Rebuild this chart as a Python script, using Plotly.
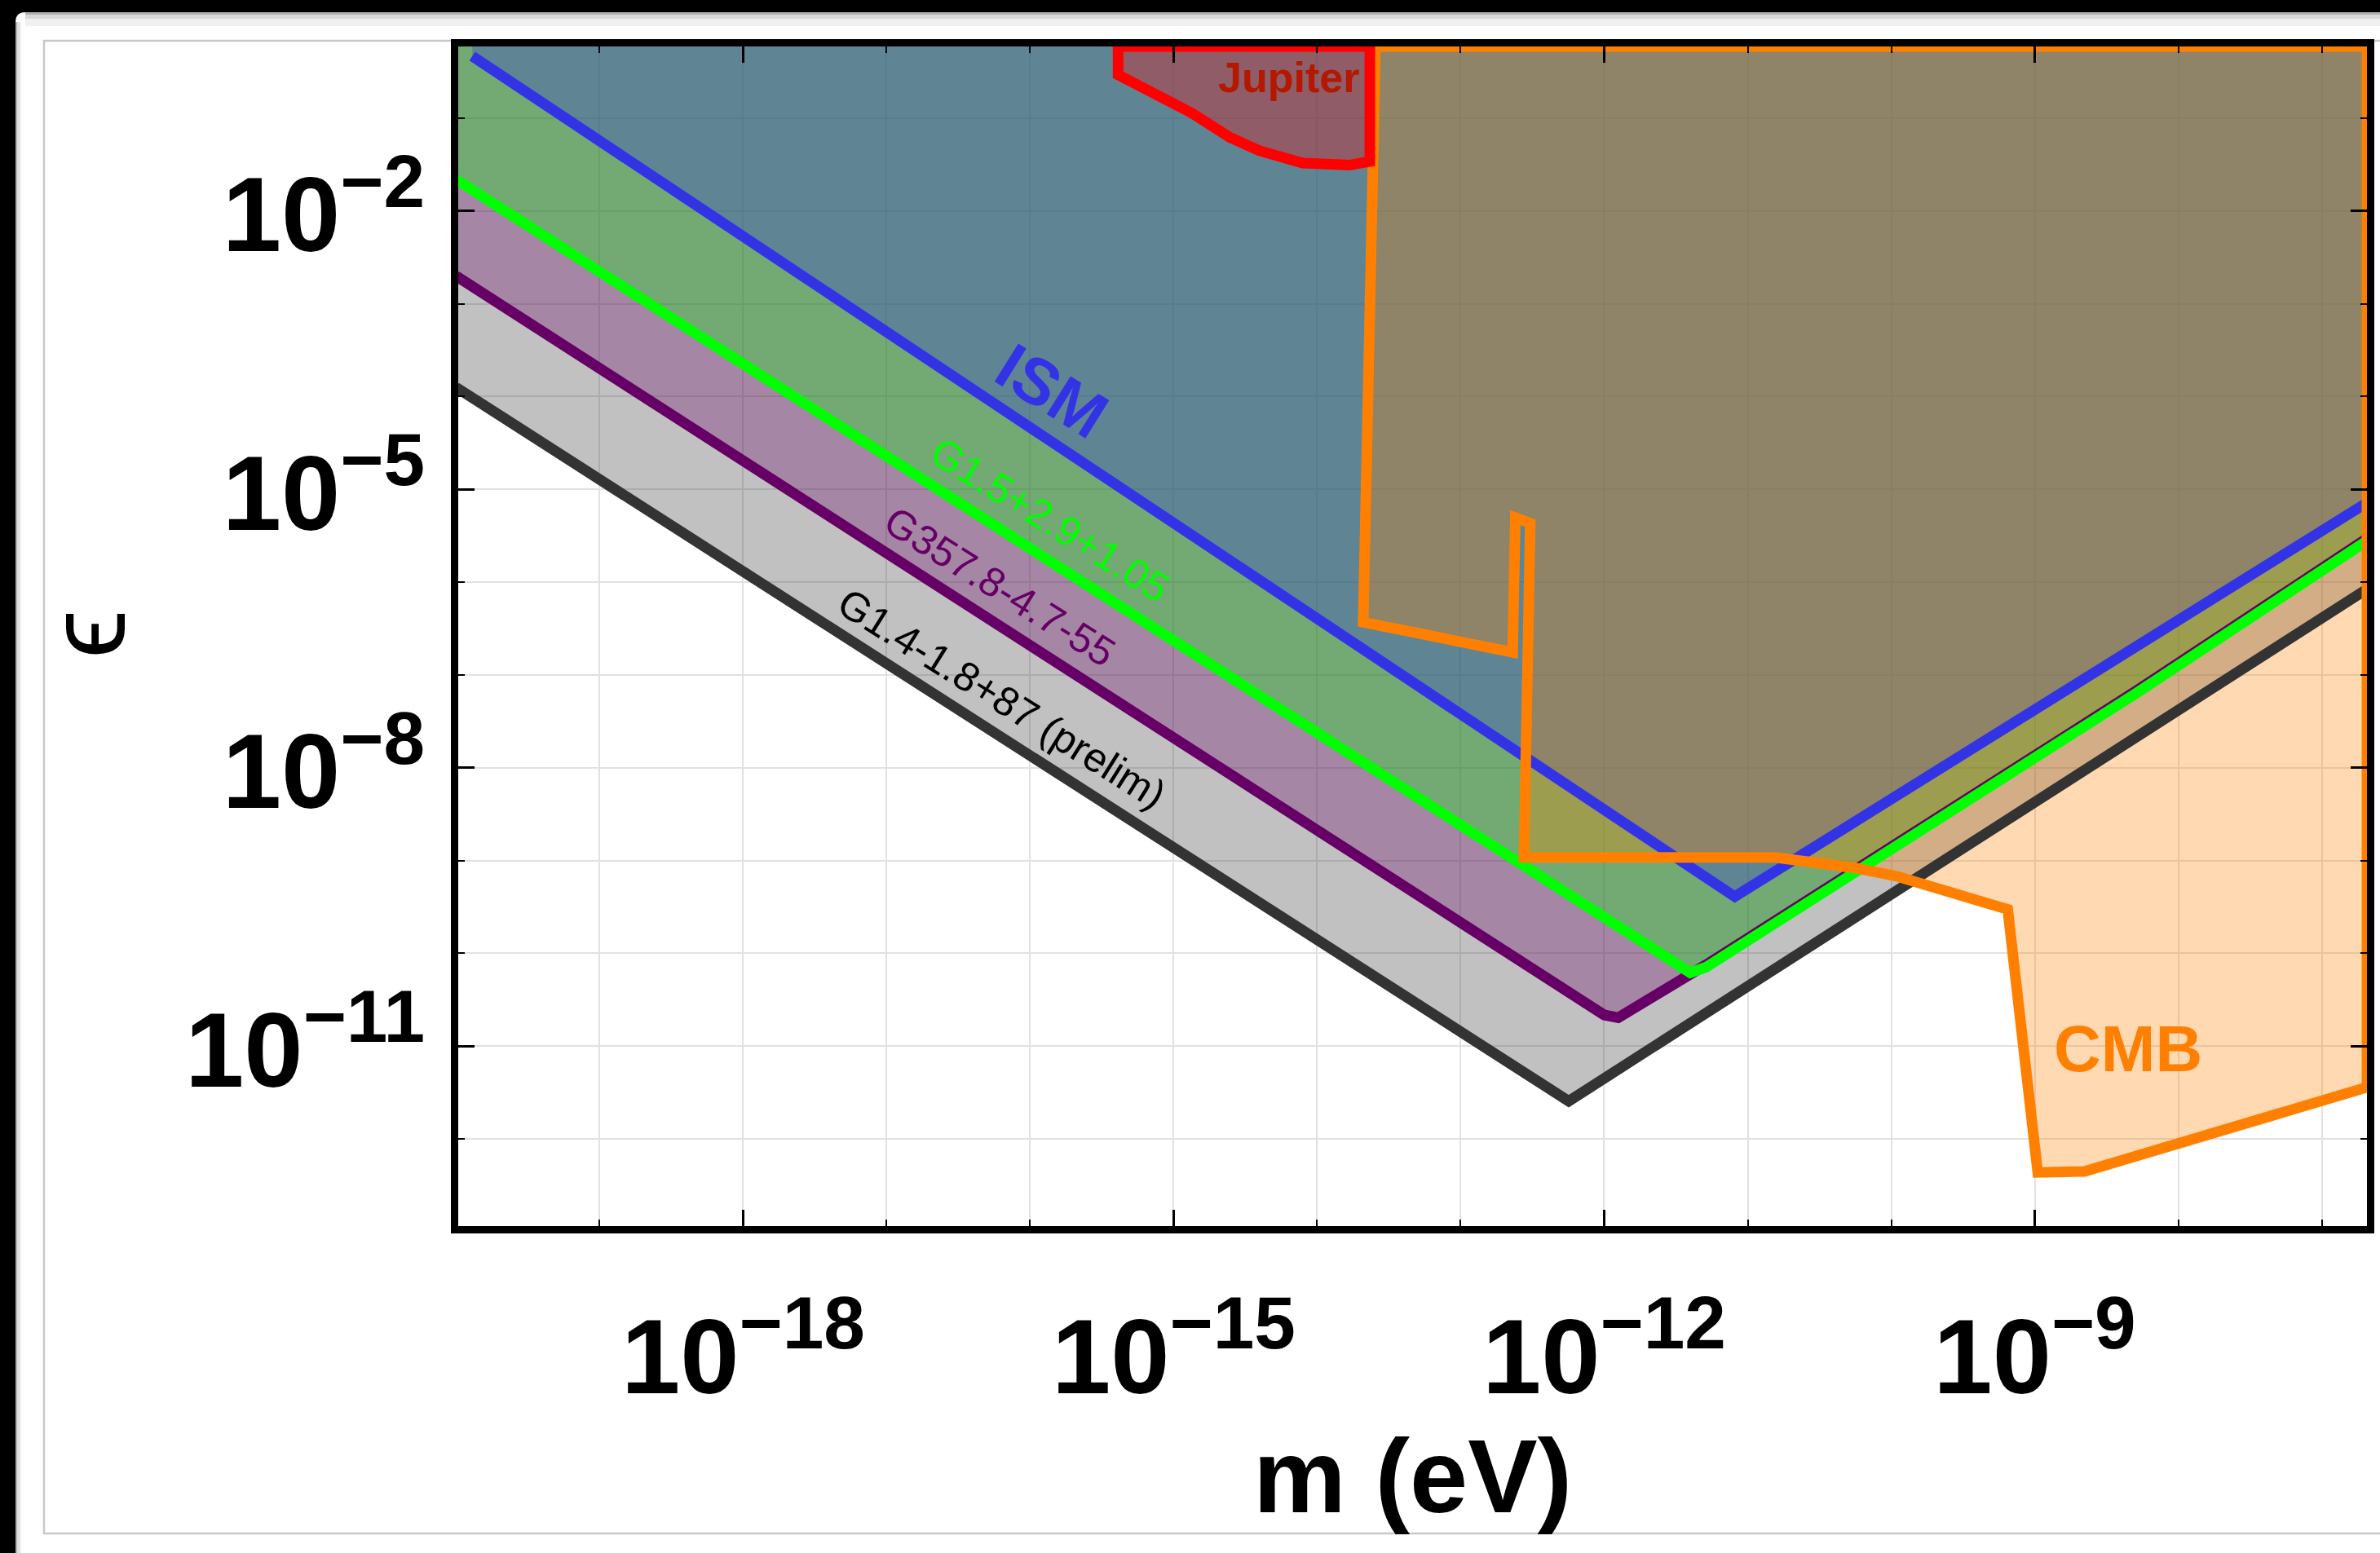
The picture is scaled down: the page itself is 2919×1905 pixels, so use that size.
import numpy as np
import plotly.graph_objects as go

# Canvas and plot-area geometry (pixels)
W, H = 2919, 1905
PLOT_L, PLOT_R, PLOT_T, PLOT_B = 562, 2912, 57, 1504

# Axis windows, log10 units
LOGM_RANGE = [-19.985, -6.685]
LOGE_RANGE = [-12.941, -0.226]

# Exclusion bounds: vertices in log10(m / eV) and log10(epsilon)
ISM_LOGM = [-19.887, -11.09, -6.685]
ISM_LOGE = [-0.33, -9.39, -5.144]

G15_LOGM = [-20.0, -11.40, -11.29, -8.285, -6.685]
G15_LOGE = [-1.66, -10.21, -10.15, -7.19, -5.554]

G357_LOGM = [-20.0, -12.0, -11.902, -11.29, -8.285, -6.685]
G357_LOGE = [-2.70, -10.665, -10.694, -10.124, -7.164, -5.528]

G14_LOGM = [-20.0, -12.247, -6.685]
G14_LOGE = [-3.90, -11.594, -6.075]

CMB_LOGM = [-13.594, -13.679, -12.638, -12.619, -12.515, -12.559, -10.808,
            -10.242, -9.959, -9.188, -8.979, -8.654, -6.685, -6.685, -13.594]
CMB_LOGE = [-0.226, -6.432, -6.755, -5.305, -5.364, -8.967, -8.967,
            -9.083, -9.171, -9.528, -12.363, -12.352, -11.445, -0.226, -0.226]

JUP_LOGM = [-15.387, -15.387, -14.872, -14.609, -14.405, -14.101, -13.774,
            -13.633, -13.633, -15.387]
JUP_LOGE = [-0.226, -0.532, -0.945, -1.205, -1.348, -1.483, -1.505,
            -1.465, -0.226, -0.226]

# Tick decades
X_MAJOR = [-18, -15, -12, -9]
X_MINOR = [-20, -19, -17, -16, -14, -13, -11, -10, -8, -7]
Y_MAJOR = [-11, -8, -5, -2]
Y_MINOR = [-13, -12, -10, -9, -7, -6, -4, -3, -1]

# Labels: (text, log10 m, log10 eps)
LABELS = [
    ("ISM", -15.85, -3.94),
    ("G1.5+2.9+1.05", -15.86, -5.33),
    ("G357.8-4.7-55", -16.21, -6.05),
    ("G1.4-1.8+87 (prelim)", -16.20, -7.26),
    ("Jupiter", -14.20, -0.56),
    ("CMB", -8.35, -11.03),
]

BLUE = (51, 51, 230)
GREEN = (0, 255, 0)
PURPLE = (102, 0, 102)
DGRAY = (51, 51, 51)
ORANGE = (255, 128, 0)
RED = (255, 0, 0)
FILL_ALPHA = 0.3
LW = 13
FONT = "Liberation Sans, Arial, DejaVu Sans"


def rgb(c):
    return "rgb(%d,%d,%d)" % c


def rgba(c, a):
    return "rgba(%d,%d,%d,%.3f)" % (c + (a,))


def lin(v):
    return 10.0 ** np.asarray(v, dtype=float)


fig = go.Figure()

top = LOGE_RANGE[1]
bands = [
    (G14_LOGM, G14_LOGE, DGRAY),
    (G357_LOGM, G357_LOGE, PURPLE),
    (G15_LOGM, G15_LOGE, GREEN),
    (ISM_LOGM, ISM_LOGE, BLUE),
]
regions = [
    (CMB_LOGM, CMB_LOGE, ORANGE),
    (JUP_LOGM, JUP_LOGE, RED),
]

# Filled areas first (each bound filled up to the top of the window)
for lm, le, c in bands:
    xs = list(lm) + [lm[-1], lm[0], lm[0]]
    ys = list(le) + [top, top, le[0]]
    fig.add_trace(go.Scatter(x=lin(xs), y=lin(ys), mode="lines", fill="toself",
                             fillcolor=rgba(c, FILL_ALPHA),
                             line=dict(width=0, color=rgba(c, 0)),
                             hoverinfo="skip"))
for lm, le, c in regions:
    fig.add_trace(go.Scatter(x=lin(lm), y=lin(le), mode="lines", fill="toself",
                             fillcolor=rgba(c, FILL_ALPHA),
                             line=dict(width=0, color=rgba(c, 0)),
                             hoverinfo="skip"))

# Boundary lines on top of all fills
for lm, le, c in bands + regions:
    fig.add_trace(go.Scatter(x=lin(lm), y=lin(le), mode="lines",
                             line=dict(width=LW, color=rgb(c)),
                             hoverinfo="skip"))

label_style = {
    "ISM": dict(color=rgb(BLUE), size=80, weight="bold", angle=32),
    "G1.5+2.9+1.05": dict(color=rgb(GREEN), size=50, weight="normal", angle=32),
    "G357.8-4.7-55": dict(color=rgb(PURPLE), size=50, weight="normal", angle=32),
    "G1.4-1.8+87 (prelim)": dict(color="black", size=50, weight="normal", angle=32),
    "Jupiter": dict(color="#b41800", size=52, weight="bold", angle=0),
    "CMB": dict(color=rgb(ORANGE), size=80, weight="bold", angle=0),
}

annotations = []
for text, lm, le in LABELS:
    s = label_style[text]
    annotations.append(dict(x=lm, y=le, xref="x", yref="y", text=text,
                            showarrow=False, textangle=s["angle"],
                            xanchor="center", yanchor="middle",
                            font=dict(family=FONT, size=s["size"],
                                      color=s["color"], weight=s["weight"])))


def px(X):
    return (X - PLOT_L) / (PLOT_R - PLOT_L)


def py(Y):
    return (PLOT_B - Y) / (PLOT_B - PLOT_T)


# Axis titles
annotations.append(dict(x=px(1737), y=py(1810), xref="paper", yref="paper",
                        text="m (eV)", showarrow=False, xanchor="center",
                        yanchor="middle",
                        font=dict(family=FONT, size=128, color="black",
                                  weight="bold")))
annotations.append(dict(x=px(104), y=py(778), xref="paper", yref="paper",
                        text="\u03f5", showarrow=False, textangle=-90,
                        xanchor="center", yanchor="middle",
                        font=dict(family=FONT, size=136, color="black")))

# Notebook-style white panel on a dark backdrop
r = 12
panel = ("M %f,%f L %f,%f Q %f,%f %f,%f L %f,%f L %f,%f Z" % (
    px(17), py(2100), px(17), py(15 + r), px(17), py(15), px(17 + r), py(15),
    px(3100), py(15), px(3100), py(2100)))
shapes = [dict(type="path", path=panel, xref="paper", yref="paper",
               fillcolor="white", line=dict(width=0), layer="below")]
for y0, y1, a in [(15, 18, 0.30), (18, 23, 0.15), (23, 32, 0.06)]:
    shapes.append(dict(type="rect", xref="paper", yref="paper",
                       x0=px(17 + r), x1=px(3100), y0=py(y1), y1=py(y0),
                       fillcolor="rgba(0,0,0,%.2f)" % a, line=dict(width=0),
                       layer="below"))
for x0, x1, a in [(17, 19, 0.30), (19, 23, 0.12)]:
    shapes.append(dict(type="rect", xref="paper", yref="paper",
                       x0=px(x0), x1=px(x1), y0=py(2100), y1=py(15 + r),
                       fillcolor="rgba(0,0,0,%.2f)" % a, line=dict(width=0),
                       layer="below"))
shapes.append(dict(type="rect", xref="paper", yref="paper",
                   x0=px(52), x1=px(3100), y0=py(1881), y1=py(50),
                   fillcolor="rgba(0,0,0,0)",
                   line=dict(color="#c8c8c8", width=2.5), layer="below"))


def sup_labels(decades):
    return ["10<sup>\u2212%d</sup>" % (-d) for d in decades]


tickfont = dict(family=FONT, size=130, color="black", weight="bold")
GRID = "#e1e1e1"
common = dict(type="log", showline=True, linecolor="black", linewidth=9,
              mirror="ticks", ticks="inside", ticklen=20, tickwidth=2.5,
              tickcolor="black", tickmode="array", showgrid=True,
              gridcolor=GRID, gridwidth=1.5, zeroline=False, tickfont=tickfont)

fig.update_xaxes(range=LOGM_RANGE, tickvals=list(lin(X_MAJOR)),
                 ticktext=sup_labels(X_MAJOR), ticklabelstandoff=40,
                 minor=dict(tickmode="array", tickvals=list(lin(X_MINOR)),
                            ticks="inside", ticklen=8, tickwidth=2,
                            tickcolor="black", showgrid=True, gridcolor=GRID,
                            gridwidth=1.5),
                 **common)
fig.update_yaxes(range=LOGE_RANGE, tickvals=list(lin(Y_MAJOR)),
                 ticktext=sup_labels(Y_MAJOR), ticklabelstandoff=6,
                 ticklabelshift=4,
                 minor=dict(tickmode="array", tickvals=list(lin(Y_MINOR)),
                            ticks="inside", ticklen=8, tickwidth=2,
                            tickcolor="black", showgrid=True, gridcolor=GRID,
                            gridwidth=1.5),
                 **common)

fig.update_layout(width=W, height=H, autosize=False,
                  margin=dict(l=PLOT_L, r=W - PLOT_R, t=PLOT_T, b=H - PLOT_B,
                              pad=0),
                  paper_bgcolor="black", plot_bgcolor="white",
                  showlegend=False, shapes=shapes, annotations=annotations)

fig.write_html("out.html")
